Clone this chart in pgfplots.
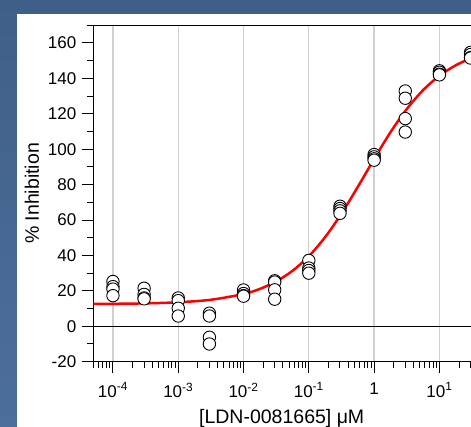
\documentclass[border=0pt]{standalone}
\usepackage{pgfplots}
\pgfplotsset{compat=1.18}
\usepackage{fontspec}
\setmainfont{Liberation Sans}
\definecolor{bgtop}{RGB}{64,95,136}
\definecolor{bgbot}{RGB}{76,111,154}
\definecolor{gridc}{RGB}{208,208,208}

\pgfplotstableread{
x y
1e-4 25.3
1e-4 22.4
1e-4 21.0
1e-4 17.3
3e-4 21.5
3e-4 18.0
3e-4 16.0
3e-4 15.5
1e-3 16.0
1e-3 14.5
1e-3 10.2
1e-3 5.8
3e-3 7.4
3e-3 5.8
3e-3 -6.2
3e-3 -10.0
1e-2 20.5
1e-2 18.5
1e-2 17.3
1e-2 17.0
3e-2 25.7
3e-2 25.0
3e-2 20.6
3e-2 15.3
1e-1 37.2
1e-1 32.9
1e-1 31.5
1e-1 30.0
3e-1 67.8
3e-1 66.5
3e-1 65.2
3e-1 63.8
1 97.0
1 95.7
1 94.6
1 93.8
3 132.9
3 128.8
3 117.3
3 109.7
10 144.3
10 143.5
10 142.4
10 142.0
30 154.7
30 153.5
30 151.8
30 151.5
}\pointdata

\pgfplotstableread{
x y
5.0e-5 12.61
1e-4 12.69
3.162e-4 12.95
1e-3 13.56
3.162e-3 14.98
1e-2 18.22
1.778e-2 21.11
3.162e-2 25.33
5.623e-2 31.32
0.1 39.56
0.1778 50.36
0.3162 63.62
0.5623 78.74
1 94.49
1.778 109.56
3.162 122.71
5.623 133.38
10 141.50
17.78 147.42
31.62 151.56
56.23 154.40
}\curvedata

\begin{document}
\begin{tikzpicture}[x=1pt,y=1pt]
\path[use as bounding box] (-93.3,-65.3) rectangle (377.7,361.7);
\clip (-93.3,-65.3) rectangle (377.7,361.7);
\shade[top color=bgtop, bottom color=bgbot] (-93.3,-65.3) rectangle (377.7,361.7);
\fill[white] (-76.6,-66) rectangle (378,347.7);
\begin{axis}[
  at={(0,0)}, anchor=south west, scale only axis,
  width=379.1pt, height=336.4pt,
  xmode=log, xmin=5e-5, xmax=32, ymin=-20, ymax=170,
  axis line style={black, line width=1pt},
  tick align=outside, tick pos=left,
  major tick length=11.5pt, minor tick length=6.5pt,
  every tick/.style={black, line width=1pt},
  xtick={1e-4,1e-3,1e-2,1e-1,1,10},
  xticklabels={10\textsuperscript{-4},10\textsuperscript{-3},10\textsuperscript{-2},10\textsuperscript{-1},1,10\textsuperscript{1}},
  minor xtick={5e-5,6e-5,7e-5,8e-5,9e-5,
    2e-4,3e-4,4e-4,5e-4,6e-4,7e-4,8e-4,9e-4,
    2e-3,3e-3,4e-3,5e-3,6e-3,7e-3,8e-3,9e-3,
    2e-2,3e-2,4e-2,5e-2,6e-2,7e-2,8e-2,9e-2,
    0.2,0.3,0.4,0.5,0.6,0.7,0.8,0.9,
    2,3,4,5,6,7,8,9,20,30},
  ytick={-20,0,20,40,60,80,100,120,140,160},
  yticklabels={-20,0,20,40,60,80,100,120,140,160},
  minor ytick={-10,10,30,50,70,90,110,130,150,170},
  xmajorgrids, major x grid style={gridc, line width=1.3pt},
  tick label style={font=\fontsize{17}{20}\selectfont},
  xticklabel style={yshift=-6pt},
  yticklabel style={xshift=-2pt},
  xlabel={[LDN-0081665] μM},
  ylabel={\% Inhibition},
  every axis x label/.style={at={(axis description cs:0.497,-0.1852)}, anchor=base, font=\fontsize{19.5}{23}\selectfont},
  every axis y label/.style={at={(axis description cs:-0.1617,0.5)}, anchor=center, rotate=90, font=\fontsize{19.5}{23}\selectfont},
]
\addplot[black, line width=1pt, forget plot] coordinates {(5e-5,0) (32,0)};
\addplot[red, line width=2.5pt, smooth, no marks] table[x=x,y=y] {\curvedata};
\addplot[only marks, mark=*, mark size=6.2pt, mark options={fill=white, draw=black, line width=0.9pt}] table[x=x,y=y] {\pointdata};
\end{axis}
\end{tikzpicture}
\end{document}
